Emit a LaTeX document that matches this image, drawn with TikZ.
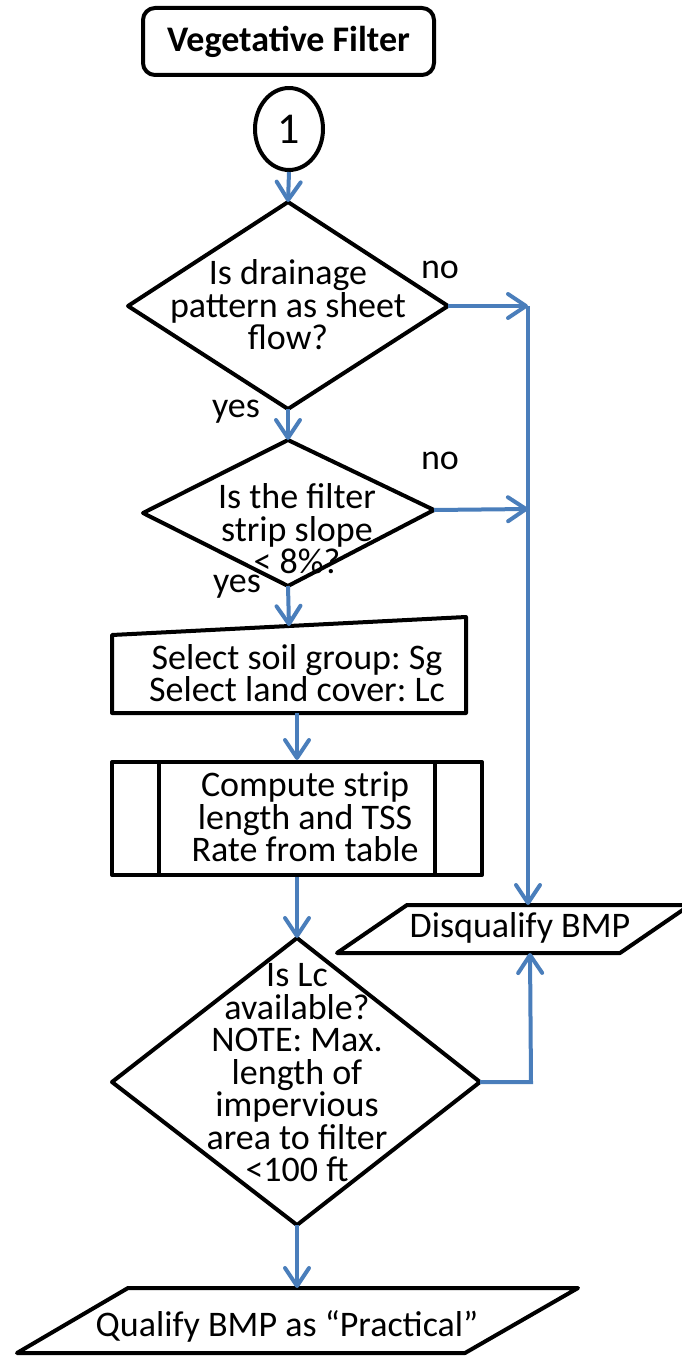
\documentclass[tikz,border=0pt]{standalone}
\usepackage{fontspec}
\setmainfont{Carlito}
\frenchspacing
\usetikzlibrary{arrows.meta,shapes.geometric}
\definecolor{flowblue}{RGB}{74,126,187}
\begin{document}
\begin{tikzpicture}[x=1pt,y=-1pt,
  outline/.style={draw=black,line width=4pt,line join=round},
  flow/.style={draw=flowblue,line width=4pt,-{Straight Barb[length=18pt,width=24pt,round]}},
  txt/.style={font=\fontsize{36}{32.5}\selectfont,align=center,inner sep=0pt},
  lbl/.style={font=\fontsize{36}{32.5}\selectfont,inner sep=0pt}]
\useasboundingbox (0,0) rectangle (682,1356);

% title and start connector
\node[outline,rounded corners=12pt,minimum width=291pt,minimum height=67pt,inner sep=0pt,
      font=\bfseries\fontsize{36}{40}\selectfont] (title) at (288.5,41.5) {Vegetative Filter};
\node[outline,ellipse,minimum width=68pt,minimum height=82pt,inner sep=0pt,
      font=\fontsize{44}{48}\selectfont] (start) at (289,129) {1};

% decision: sheet flow
\coordinate (d1n) at (288,202); \coordinate (d1e) at (448,306);
\coordinate (d1s) at (288,409); \coordinate (d1w) at (128,306);
\draw[outline] (d1n) -- (d1e) -- (d1s) -- (d1w) -- cycle;
\node[txt] (d1txt) at (288,305) {Is drainage\\pattern as sheet\\flow?};
\node[lbl] (no1) at (440,270) {no};
\node[lbl] (yes1) at (236,412) {yes};

% decision: slope
\coordinate (d2n) at (288,440); \coordinate (d2e) at (434,510);
\coordinate (d2s) at (288,586); \coordinate (d2w) at (143,513);
\draw[outline] (d2n) -- (d2e) -- (d2s) -- (d2w) -- cycle;
\node[txt] (d2txt) at (297,529) {Is the filter\\strip slope\\< 8\%?};
\node[lbl] (no2) at (440,461) {no};
\node[lbl] (yes2) at (237,587) {yes};

% manual input
\coordinate (m1) at (112,635); \coordinate (m2) at (466,617);
\coordinate (m3) at (466,713); \coordinate (m4) at (112,713);
\draw[outline] (m1) -- (m2) -- (m3) -- (m4) -- cycle;
\coordinate (mtop) at (289,626); \coordinate (mbot) at (297,713);
\node[txt] (mtxt) at (297,673) {Select soil group: Sg\\Select land cover: Lc};

% predefined process
\node[outline,rectangle,minimum width=370pt,minimum height=113pt,inner sep=0pt] (proc) at (297,818.5) {};
\draw[outline] (159,762) -- (159,875) (435,762) -- (435,875);
\node[txt] (ptxt) at (305,817) {Compute strip\\length and TSS\\Rate from table};

% decision: land cover
\coordinate (d3n) at (297,938); \coordinate (d3e) at (480,1082);
\coordinate (d3s) at (297,1225); \coordinate (d3w) at (112,1082);
\draw[outline] (d3n) -- (d3e) -- (d3s) -- (d3w) -- cycle;
\node[txt] (d3txt) at (297,1073) {Is Lc\\available?\\NOTE: Max.\\length of\\impervious\\area to filter\\<100 ft};

% disqualify output
\draw[outline] (407,905) -- (690,905) -- (620,953) -- (337,953) -- cycle;
\coordinate (dqn) at (528,905); \coordinate (dqs) at (530,953);
\node[lbl] (dqtxt) at (520,928) {Disqualify BMP};

% qualify output
\draw[outline] (128,1288) -- (578,1288) -- (465,1353) -- (17,1353) -- cycle;
\coordinate (qn) at (297,1288);
\node[lbl] (qtxt) at (287,1326) {Qualify BMP as “Practical”};

% connectors
\coordinate (j1) at (528,306); \coordinate (j2) at (528,509);
\coordinate (c3) at (531,1082);
\draw[flow] (start.south) -- (d1n);
\draw[flow] (d1s) -- (d2n);
\draw[flow] (d2s) -- (mtop);
\draw[flow] (mbot) -- (proc.north);
\draw[flow] (proc.south) -- (d3n);
\draw[flow] (d3s) -- (qn);
\draw[flow] (d1e) -- (j1);
\draw[flow] (d2e) -- (j2);
\draw[flow] (j1) -- (dqn);
\draw[flow] (d3e) -- (c3) -- (dqs);
\end{tikzpicture}
\end{document}
